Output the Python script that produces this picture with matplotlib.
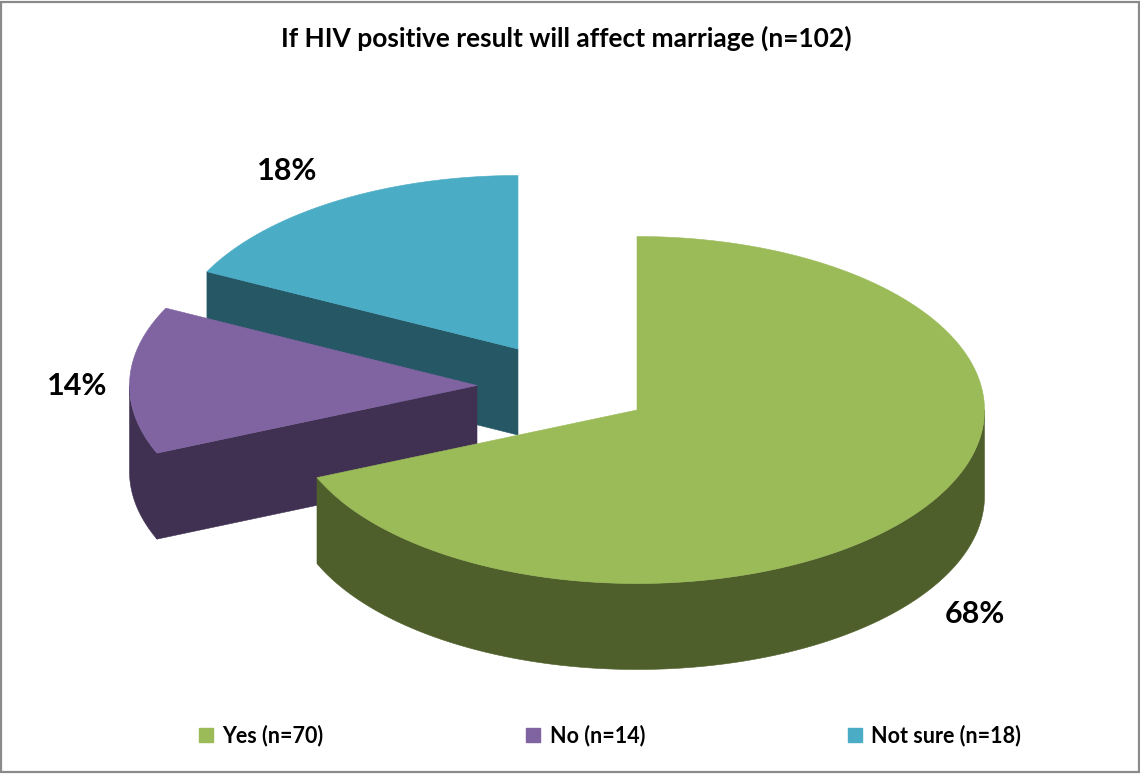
import numpy as np
import matplotlib
matplotlib.use("Agg")
import matplotlib.pyplot as plt
from matplotlib.patches import Polygon, Patch, Rectangle

title = "If HIV positive result will affect marriage (n=102)"
categories = ["Yes (n=70)", "No (n=14)", "Not sure (n=18)"]
counts = [70, 14, 18]
pct_labels = ["68%", "14%", "18%"]

top_colors = ["#9BBB59", "#8064A2", "#4BACC6"]
side_colors = ["#4F5F2B", "#403152", "#255765"]
apexes = [(637, 410), (477, 385.5), (518, 349)]
pct_pos = [(975, 614), (77, 386), (287, 171)]
RX, RY, DEPTH = 347.5, 173.5, 86

plt.rcParams["font.family"] = ["Lato", "DejaVu Sans"]
fig = plt.figure(figsize=(11.4, 7.74), dpi=100)
ax = fig.add_axes([0, 0, 1, 1])
ax.set_xlim(0, 1140)
ax.set_ylim(774, 0)
ax.axis("off")

ax.add_patch(Rectangle((0.5, 1.5), 1138, 770.5, fill=False, ec="#8A8A8A", lw=1.6))


def rim(apex, a0, a1, n=200):
    t = np.radians(np.linspace(a0, a1, n))
    return apex[0] + RX * np.sin(t), apex[1] - RY * np.cos(t)


fracs = np.array(counts, float) / sum(counts) * 360
starts = np.concatenate([[0], np.cumsum(fracs)[:-1]])
ends = starts + fracs

# back-to-front: Not sure, No, Yes
for i in [2, 1, 0]:
    apex, a0, a1 = apexes[i], starts[i], ends[i]
    # outer wall: visible on the front half of the ellipse (90..270 deg)
    w0, w1 = max(a0, 90), min(a1, 270)
    if w1 > w0:
        x, y = rim(apex, w0, w1)
        pts = np.r_[np.c_[x, y], np.c_[x[::-1], y[::-1] + DEPTH]]
        ax.add_patch(Polygon(pts, closed=True, fc=side_colors[i], ec=side_colors[i], lw=0.4))
    # cut face: the start edge faces the viewer for slices on the left side
    if a0 > 180:
        x, y = rim(apex, a0, a0, 2)
        pts = [(x[0], y[0]), apex, (apex[0], apex[1] + DEPTH), (x[0], y[0] + DEPTH)]
        ax.add_patch(Polygon(pts, closed=True, fc=side_colors[i], ec=side_colors[i], lw=0.4))
    # top surface
    x, y = rim(apex, a0, a1)
    pts = np.r_[[apex], np.c_[x, y]]
    ax.add_patch(Polygon(pts, closed=True, fc=top_colors[i], ec=top_colors[i], lw=0.4))

for (px, py), lab in zip(pct_pos, pct_labels):
    ax.text(px, py, lab, fontsize=22, fontweight="bold", color="black", ha="center", va="center")

ax.text(566, 38, title, fontsize=19, fontweight="bold", color="black", ha="center", va="center")

handles = [Patch(fc=c, ec=c, label=l) for c, l in zip(top_colors, categories)]
ax.legend(handles=handles, ncol=3, loc="center", bbox_to_anchor=(610 / 1140, 1 - 736 / 774),
          bbox_transform=fig.transFigure, frameon=False, fontsize=15.5,
          handlelength=0.65, handleheight=0.65, handletextpad=0.45, columnspacing=9.4,
          prop={"weight": "bold", "size": 15.5})

fig.savefig("out.png", dpi=100)
